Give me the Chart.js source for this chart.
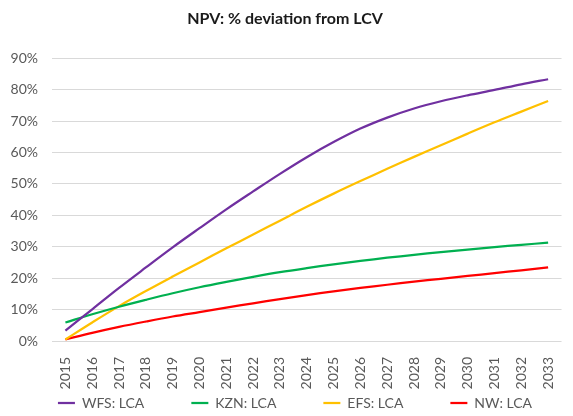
<!DOCTYPE html>
<html>
<head>
<meta charset="utf-8">
<script src="https://cdn.jsdelivr.net/npm/chart.js@4"></script>
<style>
  html, body { margin: 0; padding: 0; background: #fff; }
  #wrap { width: 573px; height: 416px; }
</style>
</head>
<body>
<div id="wrap"><canvas id="c" width="573" height="416"></canvas></div>
<script>
const years = ['2015','2016','2017','2018','2019','2020','2021','2022','2023','2024','2025','2026','2027','2028','2029','2030','2031','2032','2033'];
const wfsLCA = [3.3, 10.1, 16.9, 23.4, 29.8, 35.9, 41.9, 47.6, 53.2, 58.5, 63.3, 67.6, 71.1, 74.0, 76.3, 78.2, 79.9, 81.7, 83.3];
const kznLCA = [5.9, 8.5, 10.9, 13.1, 15.2, 17.1, 18.8, 20.4, 21.9, 23.2, 24.4, 25.5, 26.5, 27.4, 28.3, 29.1, 29.9, 30.6, 31.3];
const efsLCA = [0.5, 5.9, 11.1, 15.9, 20.5, 25.0, 29.5, 33.9, 38.3, 42.7, 46.9, 50.9, 54.8, 58.6, 62.3, 66.0, 69.6, 73.0, 76.4];
const nwLCA  = [0.5, 2.6, 4.5, 6.2, 7.8, 9.2, 10.6, 12.0, 13.3, 14.6, 15.8, 16.9, 17.9, 18.9, 19.8, 20.7, 21.6, 22.5, 23.4];
const seriesNames = ['WFS: LCA', 'KZN: LCA', 'EFS: LCA', 'NW: LCA'];
const yTicks = [0, 10, 20, 30, 40, 50, 60, 70, 80, 90];
const titleText = 'NPV: % deviation from LCV';

const FONT = 'Lato, "Open Sans", sans-serif';
const LEG_PAD = 47;
const LEG_H = 26;
const LEG_ITEM_OFFSET = 6;
const LEG_SHIFT_X = 10;

function ds(label, data, color) {
  return {
    label, data,
    borderColor: color, backgroundColor: color,
    borderWidth: 2.25, pointRadius: 0, pointHoverRadius: 0,
    tension: 0.35, fill: false
  };
}

const legendTweak = {
  id: 'legendTweak',
  afterInit(chart) {
    const lg = chart.legend;
    if (!lg) return;
    const origFit = lg.fit.bind(lg);
    lg.fit = function () { origFit(); this.height = LEG_H; };
    const origDraw = lg.draw.bind(lg);
    lg.draw = function () {
      const t = this.top, l = this.left, r = this.right;
      this.top = t + LEG_ITEM_OFFSET - LEG_PAD;
      this.left = l + LEG_SHIFT_X;
      this.right = r + LEG_SHIFT_X;
      origDraw();
      this.top = t; this.left = l; this.right = r;
    };
  }
};

new Chart(document.getElementById('c'), {
  type: 'line',
  data: {
    labels: years,
    datasets: [
      ds(seriesNames[0], wfsLCA, '#7030A0'),
      ds(seriesNames[1], kznLCA, '#00B050'),
      ds(seriesNames[2], efsLCA, '#FFC000'),
      ds(seriesNames[3], nwLCA, '#FF0000')
    ]
  },
  plugins: [legendTweak],
  options: {
    responsive: false,
    animation: false,
    devicePixelRatio: 1,
    layout: { padding: { top: 0, left: 0, right: 3, bottom: 0 } },
    plugins: {
      title: {
        display: true,
        text: titleText,
        color: '#1a1a1a',
        font: { family: FONT, size: 16, weight: 'bold' },
        padding: { top: 9, bottom: 30 }
      },
      legend: {
        display: true,
        position: 'bottom',
        labels: {
          color: '#595959',
          font: { family: FONT, size: 14 },
          usePointStyle: true,
          pointStyle: 'line',
          pointStyleWidth: 17,
          padding: LEG_PAD
        }
      },
      tooltip: { enabled: false }
    },
    scales: {
      x: {
        offset: true,
        grid: { display: false },
        border: { display: false },
        ticks: {
          color: '#595959',
          font: { family: FONT, size: 14 },
          minRotation: 90, maxRotation: 90,
          autoSkip: false,
          padding: 8
        },
        afterFit(scale) { scale.height = 49; }
      },
      y: {
        min: 0, max: 90,
        afterBuildTicks(scale) { scale.ticks = yTicks.map(v => ({ value: v })); },
        grid: { color: '#D9D9D9', lineWidth: 1, drawTicks: false },
        border: { display: false },
        ticks: {
          color: '#595959',
          font: { family: FONT, size: 14 },
          padding: 14,
          callback: v => v + '%'
        },
        afterFit(scale) { scale.width = 52; }
      }
    }
  }
});
</script>
</body>
</html>
